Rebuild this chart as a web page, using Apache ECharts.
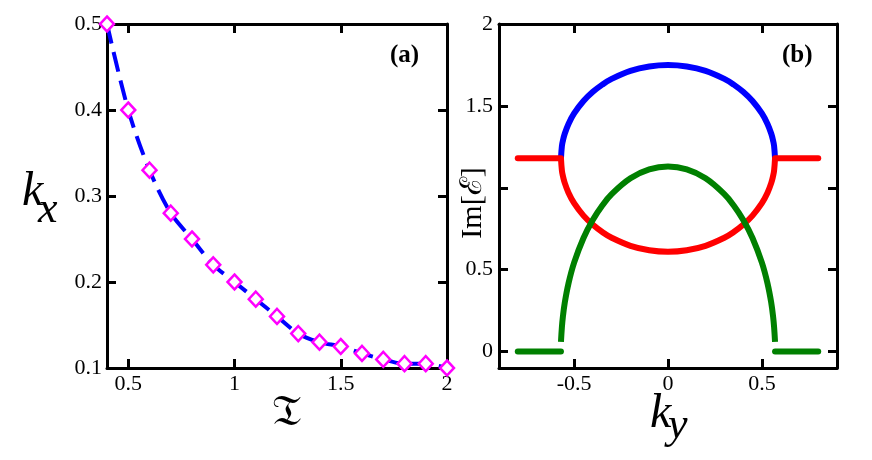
<!DOCTYPE html>
<html>
<head>
<meta charset="utf-8">
<script src="https://cdn.jsdelivr.net/npm/echarts@6/dist/echarts.min.js"></script>
<style>
  html, body { margin: 0; padding: 0; background: #fff; }
  #chart { width: 872px; height: 460px; }
</style>
</head>
<body>
<div id="chart"></div>
<script>
// panel (a): k_x against T
var tValues = [0.4, 0.5, 0.6, 0.7, 0.8, 0.9, 1.0, 1.1, 1.2, 1.3, 1.4, 1.5, 1.6, 1.7, 1.8, 1.9, 2.0];
var kxValues = [0.5, 0.4, 0.33, 0.28, 0.25, 0.22, 0.2, 0.18, 0.16, 0.14, 0.13, 0.125, 0.117, 0.11, 0.105, 0.105, 0.1];

// panel (b): Im[E] against k_y
var kyArc = [-0.57, -0.565, -0.56, -0.55, -0.53, -0.5, -0.45, -0.4, -0.35, -0.3, -0.2, -0.1, 0,
             0.1, 0.2, 0.3, 0.35, 0.4, 0.45, 0.5, 0.53, 0.55, 0.56, 0.565, 0.57];
var blueArc = [1.18, 1.255, 1.286, 1.33, 1.39, 1.454, 1.53, 1.586, 1.63, 1.665, 1.714, 1.741, 1.75,
               1.741, 1.714, 1.665, 1.63, 1.586, 1.53, 1.454, 1.39, 1.33, 1.286, 1.255, 1.18];
var redArc = [1.18, 1.105, 1.074, 1.03, 0.97, 0.906, 0.83, 0.774, 0.73, 0.695, 0.646, 0.619, 0.61,
              0.619, 0.646, 0.695, 0.73, 0.774, 0.83, 0.906, 0.97, 1.03, 1.074, 1.105, 1.18];
var greenArc = [0.06, 0.15, 0.21, 0.297, 0.416, 0.543, 0.694, 0.805, 0.892, 0.961, 1.058, 1.112, 1.13,
                1.112, 1.058, 0.961, 0.892, 0.805, 0.694, 0.543, 0.416, 0.297, 0.21, 0.15, 0.06];
var kyFlatLeft = [-0.8, -0.57];
var kyFlatRight = [0.57, 0.8];
var redFlat = [1.18, 1.18];
var greenFlat = [0, 0];

var aXLabels = [0.5, 1, 1.5, 2];
var aXTicks = [0.5, 1, 1.5];
var aYLabels = [0.1, 0.2, 0.3, 0.4, 0.5];
var aYTicks = [0.2, 0.3, 0.4];
var bXLabels = [-0.5, 0, 0.5];
var bYLabels = [0, 0.5, 1.5, 2];
var bYTicks = [0, 0.5, 1, 1.5];

function zip(xs, ys) {
    return xs.map(function (x, i) { return [x, ys[i]]; });
}

var serif = 'Liberation Serif';
var lineStyle = { color: '#000', width: 3 };

function axis(opts) {
    var a = {
        type: 'value',
        gridIndex: opts.grid,
        position: opts.position,
        min: opts.min,
        max: opts.max,
        splitLine: { show: false },
        axisLine: { show: true, onZero: false, lineStyle: lineStyle },
        axisTick: {
            show: true, inside: true, length: 9,
            customValues: opts.ticks,
            lineStyle: { color: '#000', width: 3 }
        },
        axisLabel: { show: false }
    };
    if (opts.labels) {
        a.axisLabel = {
            show: true,
            customValues: opts.labels,
            fontFamily: serif,
            fontSize: 22,
            color: '#000',
            margin: opts.margin || 6,
            showMinLabel: true,
            showMaxLabel: true
        };
    }
    return a;
}

var chart = echarts.init(document.getElementById('chart'));

var option = {
    animation: false,
    grid: [
        { left: 107, top: 24, width: 340, height: 344 },
        { left: 499, top: 24, width: 338, height: 344 }
    ],
    xAxis: [
        axis({ grid: 0, position: 'bottom', min: 0.4, max: 2, ticks: aXTicks, labels: aXLabels, margin: 5 }),
        axis({ grid: 0, position: 'top', min: 0.4, max: 2, ticks: aXTicks }),
        axis({ grid: 1, position: 'bottom', min: -0.9, max: 0.9, ticks: bXLabels, labels: bXLabels, margin: 5 }),
        axis({ grid: 1, position: 'top', min: -0.9, max: 0.9, ticks: bXLabels })
    ],
    yAxis: [
        axis({ grid: 0, position: 'left', min: 0.1, max: 0.5, ticks: aYTicks, labels: aYLabels, margin: 5 }),
        axis({ grid: 0, position: 'right', min: 0.1, max: 0.5, ticks: aYTicks }),
        axis({ grid: 1, position: 'left', min: -0.1, max: 2, ticks: bYTicks, labels: bYLabels, margin: 6 }),
        axis({ grid: 1, position: 'right', min: -0.1, max: 2, ticks: bYTicks })
    ],
    series: [
        {
            type: 'line', xAxisIndex: 0, yAxisIndex: 0,
            data: zip(tValues, kxValues),
            smooth: 0.3,
            clip: false,
            symbol: 'diamond',
            symbolSize: [14, 15],
            itemStyle: { color: '#fff', borderColor: '#ff00ff', borderWidth: 2.5 },
            lineStyle: { color: '#0000ff', width: 4, type: [20, 9] },
            z: 3
        },
        {
            type: 'line', xAxisIndex: 2, yAxisIndex: 2, data: zip(kyArc, blueArc),
            smooth: 0.4, showSymbol: false, lineStyle: { color: '#0000ff', width: 6 }
        },
        {
            type: 'line', xAxisIndex: 2, yAxisIndex: 2, data: zip(kyArc, redArc),
            smooth: 0.4, showSymbol: false, lineStyle: { color: '#ff0000', width: 6 }
        },
        {
            type: 'line', xAxisIndex: 2, yAxisIndex: 2, data: zip(kyFlatLeft, redFlat),
            showSymbol: false, lineStyle: { color: '#ff0000', width: 6, cap: 'round' }
        },
        {
            type: 'line', xAxisIndex: 2, yAxisIndex: 2, data: zip(kyFlatRight, redFlat),
            showSymbol: false, lineStyle: { color: '#ff0000', width: 6, cap: 'round' }
        },
        {
            type: 'line', xAxisIndex: 2, yAxisIndex: 2, data: zip(kyArc, greenArc),
            smooth: 0.4, showSymbol: false, lineStyle: { color: '#008000', width: 6 }
        },
        {
            type: 'line', xAxisIndex: 2, yAxisIndex: 2, data: zip(kyFlatLeft, greenFlat),
            showSymbol: false, lineStyle: { color: '#008000', width: 6, cap: 'round' }
        },
        {
            type: 'line', xAxisIndex: 2, yAxisIndex: 2, data: zip(kyFlatRight, greenFlat),
            showSymbol: false, lineStyle: { color: '#008000', width: 6, cap: 'round' }
        }
    ],
    graphic: [
        { type: 'text', left: 22, top: 168, style: { text: 'k', font: 'italic 48px "Liberation Serif"', fill: '#000' } },
        { type: 'text', left: 38, top: 188, style: { text: 'x', font: 'italic 44px "Liberation Serif"', fill: '#000' } },
        { type: 'text', left: 272, top: 392, style: { text: '\uD835\uDD17', font: '44px "DejaVu Serif"', fill: '#000' } },
        { type: 'text', left: 390, top: 43, style: { text: '(a)', font: 'bold 25px "Liberation Serif"', fill: '#000' } },
        { type: 'text', left: 782, top: 43, style: { text: '(b)', font: 'bold 25px "Liberation Serif"', fill: '#000' } },
        { type: 'text', left: 650, top: 390, style: { text: 'k', font: 'italic 48px "Liberation Serif"', fill: '#000' } },
        { type: 'text', left: 668, top: 404, style: { text: 'y', font: 'italic 44px "Liberation Serif"', fill: '#000' } },
        {
            type: 'text', x: 473, y: 203, rotation: Math.PI / 2,
            style: { text: 'Im[\u2130]', font: '30px "Liberation Serif"', fill: '#000', align: 'center', verticalAlign: 'middle' }
        }
    ]
};

chart.setOption(option);
</script>
</body>
</html>
